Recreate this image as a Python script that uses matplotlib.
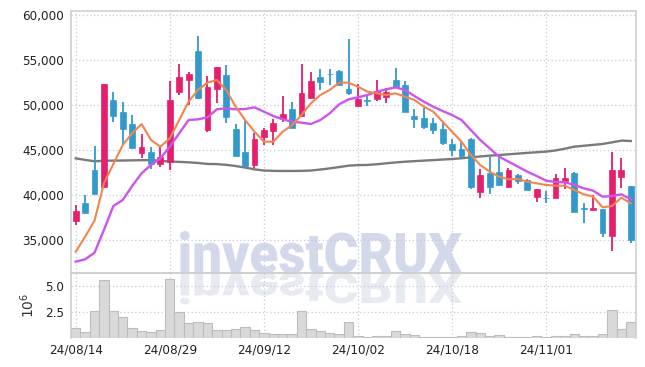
import numpy as np
import matplotlib
matplotlib.use("Agg")
import matplotlib.pyplot as plt
from matplotlib.textpath import TextPath
from matplotlib.patches import PathPatch
from matplotlib.font_manager import FontProperties
from matplotlib.transforms import Affine2D

# trading days (yy/mm/dd)
dates = ["24/08/14", "24/08/16", "24/08/19", "24/08/20", "24/08/21", "24/08/22", "24/08/23",
         "24/08/26", "24/08/27", "24/08/28", "24/08/29", "24/08/30", "24/09/02", "24/09/03",
         "24/09/04", "24/09/05", "24/09/06", "24/09/09", "24/09/10", "24/09/11", "24/09/12",
         "24/09/13", "24/09/19", "24/09/20", "24/09/23", "24/09/24", "24/09/25", "24/09/26",
         "24/09/27", "24/09/30", "24/10/02", "24/10/04", "24/10/07", "24/10/08", "24/10/10",
         "24/10/11", "24/10/14", "24/10/15", "24/10/16", "24/10/17", "24/10/18", "24/10/21",
         "24/10/22", "24/10/23", "24/10/24", "24/10/25", "24/10/28", "24/10/29", "24/10/30",
         "24/10/31", "24/11/01", "24/11/04", "24/11/05", "24/11/06", "24/11/07", "24/11/08",
         "24/11/11", "24/11/12", "24/11/13", "24/11/14"]

opens = [37144, 39145, 42778, 40922, 50556, 49222, 47889, 44700, 44778, 43478,
         43700, 51481, 52815, 56000, 47222, 51815, 53333, 47333, 44778, 43333,
         46481, 47148, 48444, 49556, 48778, 50815, 53111, 53480, 53778, 51778,
         49926, 50480, 50630, 50852, 52778, 52222, 48778, 48593, 48037, 47333,
         45667, 45111, 46222, 40370, 42407, 42519, 40926, 42222, 41667, 39815,
         39700, 39630, 41593, 42407, 38520, 38333, 38444, 35481, 41963, 41000]
highs = [38889, 40000, 45444, 52333, 51407, 50296, 48852, 46741, 45370, 45556,
         52700, 54519, 53630, 57667, 53185, 54185, 54444, 47852, 48222, 46852,
         47407, 48407, 51000, 50333, 54556, 53630, 53963, 53963, 53900, 57296,
         52333, 51000, 52778, 51926, 54074, 52667, 49519, 49630, 48519, 47963,
         46185, 45852, 46370, 42852, 44259, 44259, 42963, 42333, 41800, 40667,
         40444, 42296, 42963, 42519, 39074, 40000, 38444, 44815, 44074, 41000]
lows = [36667, 37967, 40100, 40922, 48148, 45556, 45100, 44078, 42856, 43148,
        42778, 51074, 50000, 50700, 47037, 50185, 47963, 44300, 43148, 42963,
        45556, 45556, 48148, 47407, 48778, 50815, 51630, 52222, 52259, 51111,
        49926, 49926, 50480, 50185, 52037, 49259, 47407, 47296, 46741, 45556,
        44333, 44148, 40667, 39630, 40074, 41000, 40815, 41222, 40500, 39259,
        39074, 39630, 40667, 38074, 36852, 38333, 35370, 33815, 40741, 34630]
closes = [38222, 38033, 40144, 52333, 48811, 47370, 45259, 45333, 43478, 44222,
          50556, 53111, 53444, 50815, 52000, 54185, 48704, 44370, 43259, 46222,
          47222, 48037, 49000, 47407, 51370, 52667, 52593, 53400, 52259, 51333,
          50667, 50440, 51556, 51407, 52037, 49259, 48407, 47593, 47222, 45741,
          45000, 44370, 40852, 42222, 40926, 41111, 42741, 41593, 40556, 40667,
          39630, 41852, 41852, 38074, 38420, 38519, 35815, 42778, 42778, 35000]

ma5 = [33700, 35370, 37150, 41300, 43440, 45560, 46852, 47890, 46110, 45370,
       46296, 48333, 50370, 51667, 52480, 52780, 51667, 49815, 48333, 47037,
       45926, 45926, 47037, 47778, 48889, 50185, 51111, 51667, 52480, 52480,
       52037, 51481, 51296, 51111, 51296, 50926, 50556, 49815, 49259, 48148,
       47037, 45926, 44444, 43333, 42593, 42037, 41741, 41778, 41481, 41296,
       41111, 41037, 41037, 40556, 40074, 39815, 38630, 38778, 39704, 39074]
ma20 = [32593, 32852, 33593, 36111, 38778, 39444, 41000, 42407, 43333, 44074,
        45370, 46852, 48333, 48407, 48630, 49519, 49630, 49519, 49556, 49741,
        49259, 48778, 48407, 48148, 48037, 47889, 48333, 49074, 50074, 50630,
        50852, 51111, 51481, 51741, 51963, 51667, 51000, 50370, 49815, 49333,
        48889, 48333, 47222, 46111, 45185, 44259, 43704, 43148, 42593, 42111,
        41593, 41444, 41407, 41111, 40741, 40481, 39815, 39889, 40074, 39519]
ma_long = [44070, 43900, 43750, 43800, 43820, 43830, 43850, 43870, 43880, 43800,
           43720, 43680, 43630, 43560, 43450, 43430, 43350, 43220, 43050, 42850,
           42720, 42680, 42670, 42670, 42680, 42720, 42830, 42960, 43100, 43260,
           43320, 43340, 43420, 43520, 43620, 43700, 43760, 43820, 43880, 43940,
           44000, 44080, 44180, 44280, 44370, 44440, 44520, 44600, 44680, 44750,
           44820, 44950, 45150, 45370, 45470, 45570, 45670, 45850, 46040, 46000]

volume = [0.96, 0.60, 2.62, 5.58, 2.62, 2.02, 0.96, 0.70, 0.60, 0.77,
          5.70, 2.53, 1.47, 1.57, 1.47, 0.80, 0.80, 0.89, 1.09, 0.80,
          0.54, 0.41, 0.41, 0.41, 2.62, 0.89, 0.70, 0.48, 0.38, 1.54,
          0.25, 0.15, 0.25, 0.25, 0.70, 0.41, 0.29, 0.15, 0.15, 0.15,
          0.15, 0.25, 0.60, 0.48, 0.20, 0.29, 0.15, 0.10, 0.10, 0.18,
          0.10, 0.18, 0.18, 0.41, 0.18, 0.18, 0.38, 2.69, 0.89, 1.57]

UP = "#e61e6e"
DOWN = "#3399cc"
GRID = "#c5c9dc"
SPINE = "#cfcfcf"
tick_fp = FontProperties(family="DejaVu Sans", stretch="condensed", size=9.6)

fig = plt.figure(figsize=(6.45, 3.67), dpi=100, facecolor="white")
ax = fig.add_axes([71 / 645, 1 - 273 / 367, 564.5 / 645, 262 / 367])
axv = fig.add_axes([71 / 645, 1 - 338.3 / 367, 564.5 / 645, 65.3 / 367], sharex=ax)

x = np.arange(len(dates))
o = np.array(opens)
c = np.array(closes)
up = c >= o
colors = np.where(up, UP, DOWN)

# watermark + reflection, behind the axes
fp = FontProperties(family=["Roboto", "DejaVu Sans"], weight="black")
tp = TextPath((0, 0), "investCRUX", size=100, prop=fp)
bb = tp.get_extents()
cap = TextPath((0, 0), "X", size=100, prop=fp).get_extents().height
sx = (462 - 180) / bb.width
sy = 40 / cap
base = 367 - 273
tr = Affine2D().translate(-bb.x0, 0).scale(sx, sy).translate(180, base)
fig.add_artist(PathPatch(tp, transform=tr, facecolor="#d3d8ea", edgecolor="none", zorder=-2))
tr2 = Affine2D().translate(-bb.x0, 0).scale(sx, -sy * 0.75).translate(180, base)
fig.add_artist(PathPatch(tp, transform=tr2, facecolor="#e8eaf1", edgecolor="none", zorder=-2))

for a in (ax, axv):
    a.set_facecolor("none")
    a.grid(True, color=GRID, linestyle=(0, (1, 2)), linewidth=0.9)
    a.set_axisbelow(True)
    a.tick_params(length=0, colors="#222222")
    for s in a.spines.values():
        s.set_color(SPINE)
        s.set_linewidth(1.2)
axv.spines["bottom"].set_visible(False)

# candles
ax.vlines(x, lows, highs, colors=colors, linewidth=1.3, zorder=3)
body = np.maximum(np.abs(c - o), 90)
ax.bar(x, body, bottom=np.minimum(o, c), width=0.62, color=colors, edgecolor=colors,
       linewidth=0.5, zorder=4)

ax.plot(x, ma_long, color="#7a7a7a", linewidth=1.7, zorder=2)
ax.plot(x, ma20, color="#cc55ee", linewidth=1.7, zorder=5)
ax.plot(x, ma5, color="#f08550", linewidth=1.5, zorder=5)

yt = [35000, 40000, 45000, 50000, 55000, 60000]
ax.set_xlim(-0.5, len(dates) - 0.5)
ax.set_ylim(31333, 60444)
ax.set_yticks(yt)
ax.set_yticklabels([f"{v:,}" for v in yt], fontproperties=tick_fp)
ax.tick_params(axis="x", labelbottom=False)
ax.tick_params(axis="y", pad=5)

# volume
axv.bar(x, np.array(volume), width=1.0, color="#d9d9d9", edgecolor="#bdbdbd", linewidth=0.8)
axv.set_ylim(0, 6.28)
axv.set_yticks([2.5, 5.0])
axv.set_yticklabels(["2.5", "5.0"], fontproperties=tick_fp)
axv.tick_params(axis="y", pad=5)
axv.set_ylabel(r"$10^6$", fontsize=10, color="#333333", labelpad=6)
ticks = list(range(0, len(dates), 10))
axv.set_xticks(ticks)
axv.set_xticklabels([dates[i] for i in ticks], fontproperties=tick_fp)
axv.tick_params(axis="x", pad=4)

fig.savefig("out.png", dpi=100, facecolor="white")
